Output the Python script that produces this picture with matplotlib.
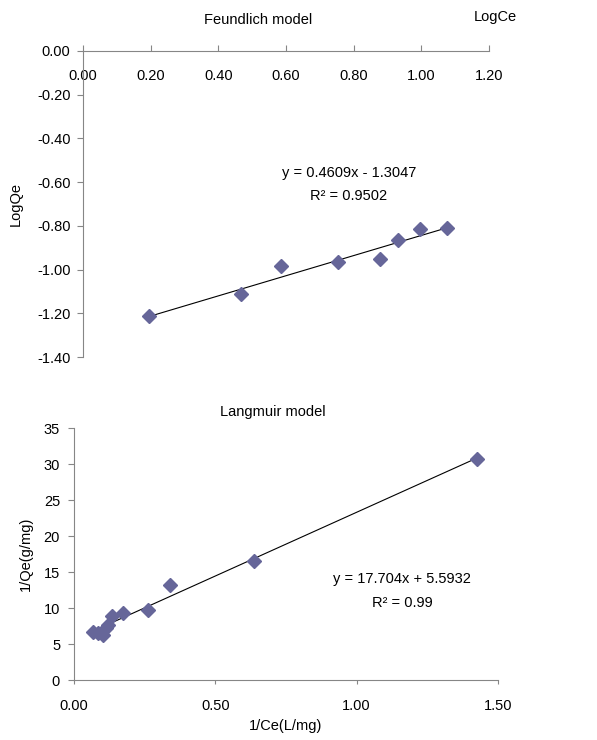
import numpy as np
import matplotlib
matplotlib.use("Agg")
import matplotlib.pyplot as plt
from matplotlib.ticker import FormatStrFormatter, MultipleLocator

plt.rcParams["font.family"] = ["Liberation Sans", "DejaVu Sans"]
plt.rcParams["font.size"] = 10.5

# Freundlich isotherm data
log_ce = [0.195, 0.468, 0.584, 0.754, 0.877, 0.932, 0.997, 1.076]
log_qe = [-1.214, -1.113, -0.984, -0.964, -0.952, -0.866, -0.814, -0.810]
f_slope, f_icpt = 0.4609, -1.3047

# Langmuir isotherm data
inv_ce = [0.068, 0.086, 0.101, 0.113, 0.121, 0.133, 0.175, 0.262, 0.340, 0.637, 1.427]
inv_qe = [6.70, 6.47, 6.24, 7.17, 7.63, 8.88, 9.25, 9.71, 13.18, 16.5, 30.75]
l_slope, l_icpt = 17.704, 5.5932

marker_color = "#666699"
spine_color = "#868686"

fig = plt.figure(figsize=(5.97, 7.40), dpi=100)
W, H = 597, 740

def px_axes(l, t, r, b):
    return fig.add_axes([l / W, 1 - b / H, (r - l) / W, (b - t) / H])

# ---- Freundlich model ----
ax1 = px_axes(83, 51, 489, 357)
ax1.plot(log_ce, log_qe, "D", color=marker_color, ms=7.5, mec=marker_color, zorder=3)
xf = np.array([min(log_ce), max(log_ce)])
ax1.plot(xf, f_slope * xf + f_icpt, color="black", lw=0.8)
ax1.set_xlim(0, 1.2)
ax1.set_ylim(-1.4, 0)
ax1.xaxis.set_major_locator(MultipleLocator(0.2))
ax1.yaxis.set_major_locator(MultipleLocator(0.2))
ax1.xaxis.set_major_formatter(FormatStrFormatter("%.2f"))
ax1.yaxis.set_major_formatter(FormatStrFormatter("%.2f"))
for s in ["right", "top"]:
    ax1.spines[s].set_visible(False)
ax1.spines["bottom"].set_position(("data", 0))
for s in ["left", "bottom"]:
    ax1.spines[s].set_color(spine_color)
ax1.tick_params(axis="x", direction="in", length=4, color=spine_color, pad=13)
ax1.tick_params(axis="y", direction="out", length=4, color=spine_color, pad=5)
ax1.set_ylabel("LogQe", labelpad=10)
fig.text(258 / W, 1 - 20 / H, "Feundlich model", ha="center", va="center")
fig.text(495 / W, 1 - 17 / H, "LogCe", ha="center", va="center")
fig.text(349 / W, 1 - 173 / H, "y = 0.4609x - 1.3047", ha="center", va="center")
fig.text(349 / W, 1 - 196 / H, "R² = 0.9502", ha="center", va="center")

# ---- Langmuir model ----
ax2 = px_axes(74, 428, 498, 680)
ax2.plot(inv_ce, inv_qe, "D", color=marker_color, ms=7.5, mec=marker_color, zorder=3)
xl = np.array([min(inv_ce), max(inv_ce)])
ax2.plot(xl, l_slope * xl + l_icpt, color="black", lw=0.8)
ax2.set_xlim(0, 1.5)
ax2.set_ylim(0, 35)
ax2.xaxis.set_major_locator(MultipleLocator(0.5))
ax2.yaxis.set_major_locator(MultipleLocator(5))
ax2.xaxis.set_major_formatter(FormatStrFormatter("%.2f"))
for s in ["right", "top"]:
    ax2.spines[s].set_visible(False)
for s in ["left", "bottom"]:
    ax2.spines[s].set_color(spine_color)
ax2.tick_params(axis="x", direction="out", length=3, color=spine_color, pad=11)
ax2.tick_params(axis="y", direction="out", length=4, color=spine_color, pad=6)
ax2.set_ylabel("1/Qe(g/mg)", labelpad=8)
ax2.set_xlabel("1/Ce(L/mg)", labelpad=4)
fig.text(273 / W, 1 - 412 / H, "Langmuir model", ha="center", va="center")
fig.text(402 / W, 1 - 579 / H, "y = 17.704x + 5.5932", ha="center", va="center")
fig.text(402 / W, 1 - 603 / H, "R² = 0.99", ha="center", va="center")

fig.savefig("out.png", dpi=100)
